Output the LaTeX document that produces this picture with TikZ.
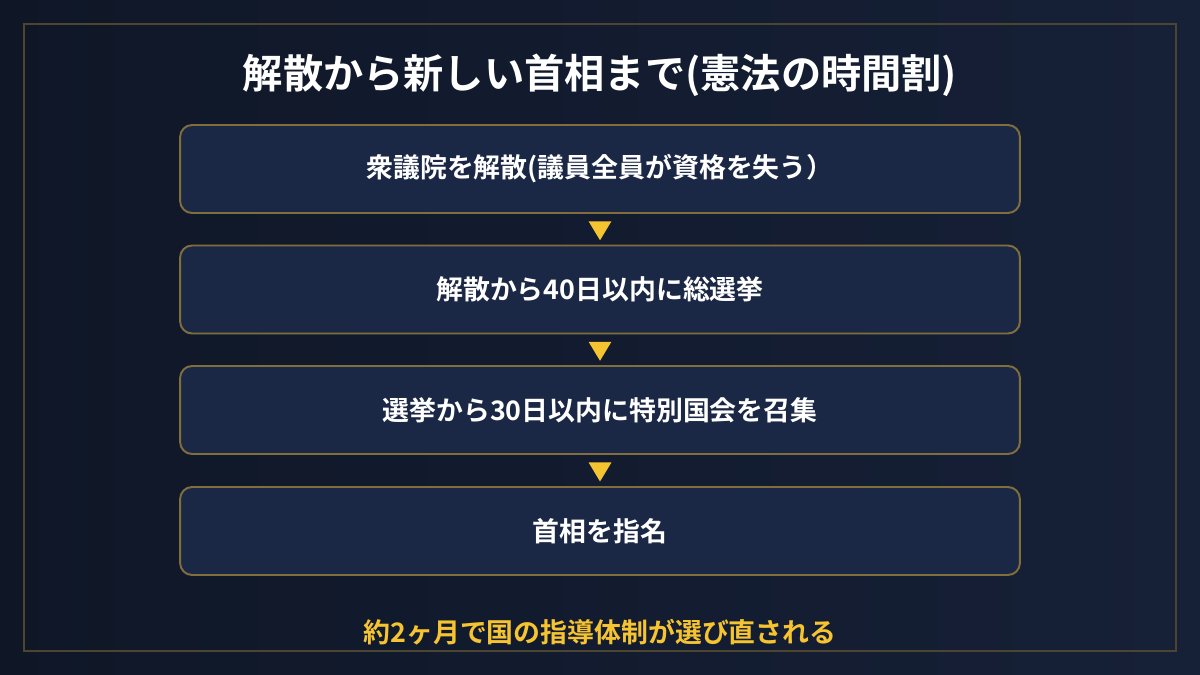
\documentclass[tikz,border=0pt]{standalone}
\usepackage{fontspec}
\setmainfont{Noto Sans CJK JP}[BoldFont={Noto Sans CJK JP Bold}]
\usetikzlibrary{positioning,shapes.geometric,calc}
\definecolor{bgleft}{RGB}{15,23,39}
\definecolor{bgright}{RGB}{22,32,55}
\definecolor{framecolor}{RGB}{76,70,48}
\definecolor{boxfill}{RGB}{27,40,69}
\definecolor{boxline}{RGB}{128,110,60}
\definecolor{accent}{RGB}{246,196,49}

\begin{document}
\begin{tikzpicture}[
    x=0.02cm, y=-0.02cm,
    every node/.style={font=\bfseries},
    stepbox/.style={draw=boxline, line width=1.1pt, fill=boxfill, rounded corners=0.24cm,
        minimum width=16.8cm, minimum height=1.76cm, text=white, font=\bfseries\fontsize{15.3}{18}\selectfont},
    pointer/.style={isosceles triangle, isosceles triangle apex angle=62, shape border rotate=-90,
        fill=accent, inner sep=0pt, minimum height=0.38cm}
]

% fond
\shade[left color=bgleft, right color=bgright] (0,0) rectangle (1200,675);
\useasboundingbox (0,0) rectangle (1200,675);
\draw[framecolor, line width=1.1pt] (24,24) rectangle (1176,651);

% titre
\node[text=white, font=\bfseries\fontsize{22.9}{27}\selectfont] (title) at (600,75) {解散から新しい首相まで(憲法の時間割)};

% etapes
\node[stepbox] (dissolve) at (600,169) {衆議院を解散(議員全員が資格を失う）};
\node[stepbox] (election) at (600,289.5) {解散から40日以内に総選挙};
\node[stepbox] (session) at (600,410) {選挙から30日以内に特別国会を召集};
\node[stepbox] (pm) at (600,531) {首相を指名};

% fleches
\node[pointer] (p1) at ($(dissolve.south)!0.45!(election.north)$) {};
\node[pointer] (p2) at ($(election.south)!0.45!(session.north)$) {};
\node[pointer] (p3) at ($(session.south)!0.45!(pm.north)$) {};

% resume
\node[text=accent, font=\bfseries\fontsize{15.3}{18}\selectfont] (summary) at (600,632) {約2ヶ月で国の指導体制が選び直される};

\end{tikzpicture}
\end{document}
